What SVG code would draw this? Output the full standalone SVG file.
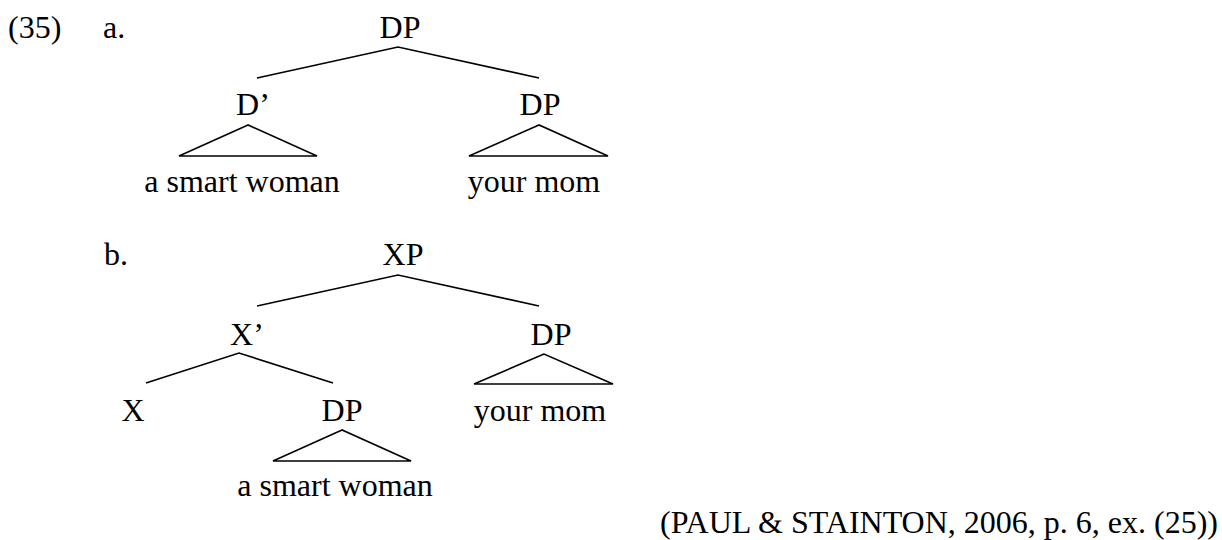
<svg xmlns="http://www.w3.org/2000/svg" width="1222" height="540" viewBox="0 0 1222 540">
  <style>
    .t { font-family: "Liberation Serif", "Times New Roman", serif; font-size: 32px; fill: #000; }
    .c { text-anchor: middle; }
    .e { stroke: #000; stroke-width: 1.6; fill: none; stroke-linejoin: miter; }
  </style>
  <rect width="1222" height="540" fill="#fff"/>

  <!-- example labels -->
  <g id="labels">
    <text class="t" x="8" y="38">(35)</text>
    <text class="t" x="103" y="38">a.</text>
    <text class="t" x="104" y="265">b.</text>
  </g>

  <!-- branches and roofs -->
  <g id="connectors">
    <!-- tree a -->
    <polyline class="e" points="257,78 398,47 539,78"/>
    <polygon class="e" points="248,125 179,156 317,156"/>
    <polygon class="e" points="539,125 469,156 608,156"/>
    <!-- tree b -->
    <polyline class="e" points="257,306 398,275 539,306"/>
    <polyline class="e" points="146,383 239,353 333,383"/>
    <polygon class="e" points="544,354 474,384 613,384"/>
    <polygon class="e" points="342,430 273,461 411,461"/>
  </g>

  <!-- tree a nodes -->
  <g id="a-dp-root"><text class="t c" x="400" y="38">DP</text></g>
  <g id="a-dbar"><text class="t c" x="253" y="115">D’</text></g>
  <g id="a-dp-right"><text class="t c" x="540" y="115">DP</text></g>
  <g id="a-smart-woman"><text class="t c" x="242" y="192">a smart woman</text></g>
  <g id="a-your-mom"><text class="t c" x="534" y="192">your mom</text></g>

  <!-- tree b nodes -->
  <g id="b-xp"><text class="t c" x="403" y="265">XP</text></g>
  <g id="b-xbar"><text class="t c" x="247" y="345">X’</text></g>
  <g id="b-dp-right"><text class="t c" x="551" y="345">DP</text></g>
  <g id="b-x"><text class="t c" x="133" y="421">X</text></g>
  <g id="b-dp-inner"><text class="t c" x="342" y="421">DP</text></g>
  <g id="b-your-mom"><text class="t c" x="540" y="421">your mom</text></g>
  <g id="b-smart-woman"><text class="t c" x="335" y="496">a smart woman</text></g>

  <!-- source -->
  <g id="citation"><text class="t" x="1218" y="533" text-anchor="end">(PAUL &amp; STAINTON, 2006, p. 6, ex. (25))</text></g>
</svg>
